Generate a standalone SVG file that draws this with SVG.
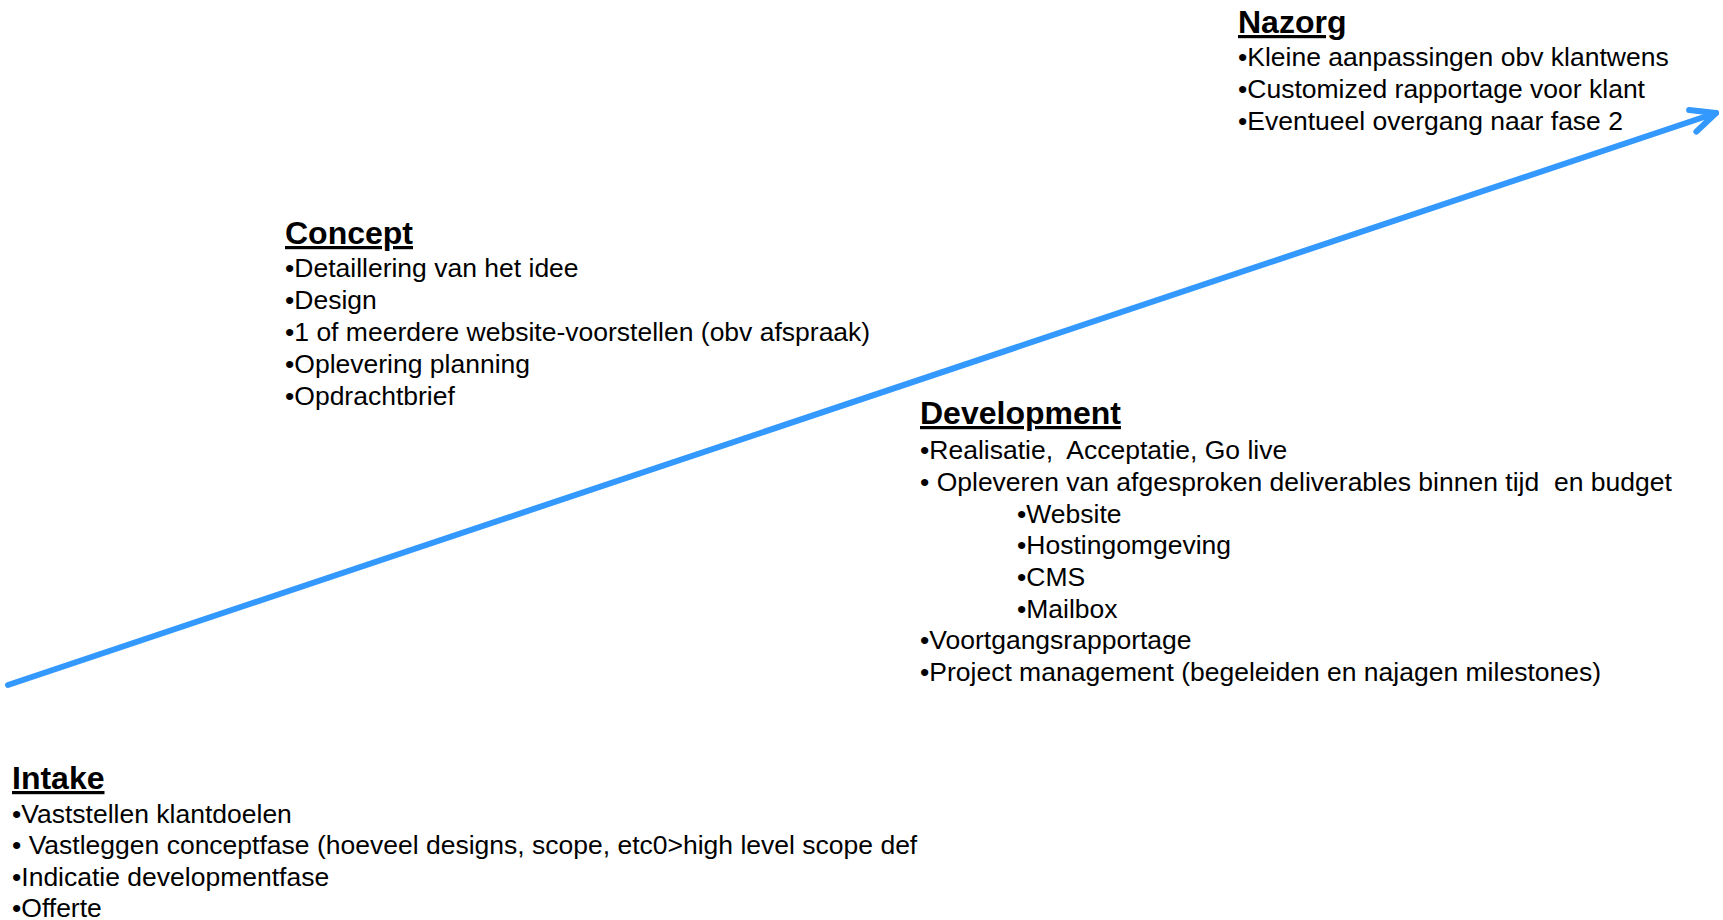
<svg xmlns="http://www.w3.org/2000/svg" width="1723" height="920" viewBox="0 0 1723 920">
  <style>
    text { font-family: "Liberation Sans", Arial, sans-serif; fill: #000; }
    .title { font-size: 32px; font-weight: bold; text-decoration: underline; }
    .item { font-size: 26.5px; }
    .conn { stroke: #3399FF; stroke-width: 6; stroke-linecap: round; fill: none; }
  </style>
  <defs>
    <marker id="arrow" markerUnits="userSpaceOnUse" markerWidth="40" markerHeight="40" refX="0" refY="0" viewBox="-32 -20 40 40" orient="auto" overflow="visible">
      <path d="M -24.5 -11.4 L 0 0 L -24.5 11.4" fill="none" stroke="#3399FF" stroke-width="6" stroke-linecap="round" stroke-linejoin="round"/>
    </marker>
  </defs>
  <rect width="1723" height="920" fill="#fff"/>

  <g id="connectors">
    <line class="conn" x1="8" y1="685" x2="1716" y2="113" marker-end="url(#arrow)"/>
  </g>

  <g id="nazorg">
    <text class="title" x="1238" y="33">Nazorg</text>
    <text class="item" x="1238" y="66">•Kleine aanpassingen obv klantwens</text>
    <text class="item" x="1238" y="98">•Customized rapportage voor klant</text>
    <text class="item" x="1238" y="130">•Eventueel overgang naar fase 2</text>
  </g>

  <g id="concept">
    <text class="title" x="285" y="244">Concept</text>
    <text class="item" x="285" y="277">•Detaillering van het idee</text>
    <text class="item" x="285" y="309">•Design</text>
    <text class="item" x="285" y="341">•1 of meerdere website-voorstellen (obv afspraak)</text>
    <text class="item" x="285" y="373">•Oplevering planning</text>
    <text class="item" x="285" y="405">•Opdrachtbrief</text>
  </g>

  <g id="development">
    <text class="title" x="920" y="424">Development</text>
    <text class="item" x="920" y="459" xml:space="preserve">•Realisatie,  Acceptatie, Go live</text>
    <text class="item" x="920" y="491" xml:space="preserve">• Opleveren van afgesproken deliverables binnen tijd  en budget</text>
    <text class="item" x="1017" y="523">•Website</text>
    <text class="item" x="1017" y="554">•Hostingomgeving</text>
    <text class="item" x="1017" y="586">•CMS</text>
    <text class="item" x="1017" y="618">•Mailbox</text>
    <text class="item" x="920" y="649">•Voortgangsrapportage</text>
    <text class="item" x="920" y="681">•Project management (begeleiden en najagen milestones)</text>
  </g>

  <g id="intake">
    <text class="title" x="12" y="789">Intake</text>
    <text class="item" x="12" y="823">•Vaststellen klantdoelen</text>
    <text class="item" x="12" y="854" xml:space="preserve">• Vastleggen conceptfase (hoeveel designs, scope, etc0&gt;high level scope def</text>
    <text class="item" x="12" y="886">•Indicatie developmentfase</text>
    <text class="item" x="12" y="917">•Offerte</text>
  </g>
</svg>
